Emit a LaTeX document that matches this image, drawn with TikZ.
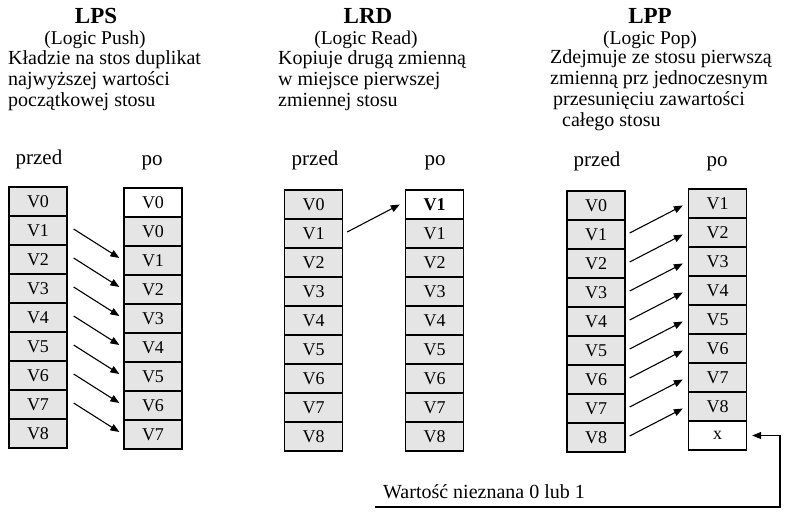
\documentclass[tikz,border=0pt]{standalone}
\usepackage{fontspec}
\setmainfont{Liberation Serif}
\usetikzlibrary{arrows.meta}
\definecolor{cellgray}{gray}{0.9}
\tikzset{
  cell/.style={draw=black, line width=1.3pt, fill=cellgray, minimum width=58pt, minimum height=29pt, inner sep=0pt, font=\fontsize{18}{18}\selectfont},
  wcell/.style={cell, fill=white},
  arr/.style={line width=1.1pt, -{Triangle[length=9pt,width=7pt]}},
  body/.style={anchor=base west, inner sep=0pt, font=\fontsize{20}{20}\selectfont},
  sub/.style={anchor=base, inner sep=0pt, font=\fontsize{19.5}{19.5}\selectfont},
  ttl/.style={anchor=base, inner sep=0pt, font=\fontsize{23}{23}\selectfont\bfseries},
  hdr/.style={anchor=base, inner sep=0pt, font=\fontsize{21}{21}\selectfont}
}
\begin{document}
\begin{tikzpicture}[x=1pt, y=-1pt]
\useasboundingbox (0,0) rectangle (794,515);
% ---------- LPS ----------
\node[ttl] (t1) at (96,23) {LPS};
\node[sub] (s1) at (95,44) {(Logic Push)};
\node[body] (d1a) at (8,64) {Kładzie na stos duplikat};
\node[body] (d1b) at (8,85) {najwyższej wartości};
\node[body] (d1c) at (8,106) {początkowej stosu};
\node[hdr] (h1a) at (39,164) {przed};
\node[hdr] (h1b) at (152,165) {po};
\foreach \i in {0,...,8} \node[cell] (sa\i) at (38,{201.5+29*\i}) {V\i};
\node[wcell] (sb0) at (153,202.5) {V0};
\foreach \i [evaluate=\i as \j using int(\i-1)] in {1,...,8}
  \node[cell] (sb\i) at (153,{202.5+29*\i}) {V\j};
\foreach \i [evaluate=\i as \j using int(\i+1)] in {1,...,7}
  \draw[arr] ([xshift=6pt,yshift=1.5pt]sa\i.east) -- ([xshift=-4pt,yshift=2.5pt]sb\j.west);
% ---------- LRD ----------
\node[ttl] (t2) at (368,23) {LRD};
\node[sub] (s2) at (366,44) {(Logic Read)};
\node[body] (d2a) at (278,64) {Kopiuje drugą zmienną};
\node[body] (d2b) at (278,85) {w miejsce pierwszej};
\node[body] (d2c) at (278,106) {zmiennej stosu};
\node[hdr] (h2a) at (315,165) {przed};
\node[hdr] (h2b) at (435,165) {po};
\foreach \i in {0,...,8} \node[cell] (ra\i) at (313.5,{204.5+29*\i}) {V\i};
\node[wcell] (rb0) at (434.5,204.5) {\bfseries V1};
\foreach \i in {1,...,8} \node[cell] (rb\i) at (434.5,{204.5+29*\i}) {V\i};
\draw[arr] ([xshift=4pt,yshift=1.5pt]ra1.east) -- ([xshift=-5pt]rb0.west);
% ---------- LPP ----------
\node[ttl] (t3) at (650,23) {LPP};
\node[sub] (s3) at (650,44) {(Logic Pop)};
\node[body] (d3a) at (550,63) {Zdejmuje ze stosu pierwszą};
\node[body] (d3b) at (550,84) {zmienną prz jednoczesnym};
\node[body] (d3c) at (553,105) {przesunięciu zawartości};
\node[body] (d3d) at (562,126) {całego stosu};
\node[hdr] (h3a) at (597,166) {przed};
\node[hdr] (h3b) at (717,166) {po};
\foreach \i in {0,...,8} \node[cell] (pa\i) at (596,{205.5+29*\i}) {V\i};
\foreach \i [evaluate=\i as \j using int(\i+1)] in {0,...,7}
  \node[cell] (pb\i) at (717.5,{203.5+29*\i}) {V\j};
\node[wcell] (pb8) at (717.5,435.5) {x};
\foreach \i [evaluate=\i as \j using int(\i-1)] in {1,...,8}
  \draw[arr] ([xshift=4pt,yshift=1.5pt]pa\i.east) -- ([xshift=-5pt,yshift=-2pt]pb\j.west);
% ---------- unknown value ----------
\node[body] (unk) at (383,498) {Wartość nieznana 0 lub 1};
\coordinate (wstart) at (375,507);
\coordinate (wcorner) at (780,507);
\draw[arr] (wstart) -- (wcorner) |- ([xshift=5pt]pb8.east);
\end{tikzpicture}
\end{document}
